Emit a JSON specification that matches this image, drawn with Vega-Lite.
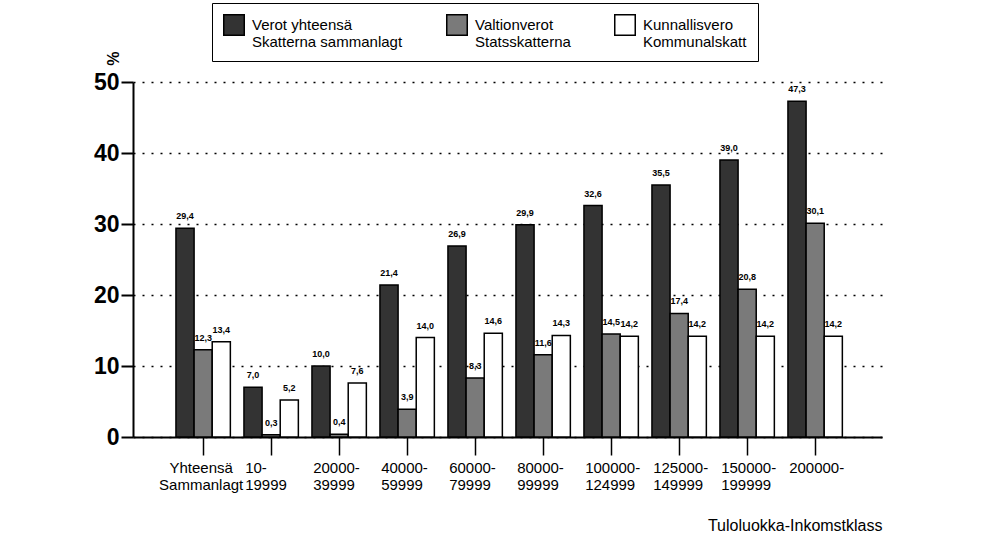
{
  "$schema": "https://vega.github.io/schema/vega-lite/v6.json",
  "width": 749,
  "height": 355,
  "autosize": "none",
  "padding": {"left": 133, "top": 82, "right": 114, "bottom": 118},
  "background": "white",
  "config": {
    "locale": {"number": {"decimal": ",", "thousands": " ", "grouping": [3], "currency": ["", ""]}},
    "font": "Liberation Sans, Arial, sans-serif",
    "view": {"stroke": null}
  },
  "data": {
    "values": [
      {"luokka": "Yhteensä Sammanlagt", "sarja": "Verot yhteensä", "arvo": 29.4},
      {"luokka": "Yhteensä Sammanlagt", "sarja": "Valtionverot", "arvo": 12.3},
      {"luokka": "Yhteensä Sammanlagt", "sarja": "Kunnallisvero", "arvo": 13.4},
      {"luokka": "10-19999", "sarja": "Verot yhteensä", "arvo": 7.0},
      {"luokka": "10-19999", "sarja": "Valtionverot", "arvo": 0.3},
      {"luokka": "10-19999", "sarja": "Kunnallisvero", "arvo": 5.2},
      {"luokka": "20000-39999", "sarja": "Verot yhteensä", "arvo": 10.0},
      {"luokka": "20000-39999", "sarja": "Valtionverot", "arvo": 0.4},
      {"luokka": "20000-39999", "sarja": "Kunnallisvero", "arvo": 7.6},
      {"luokka": "40000-59999", "sarja": "Verot yhteensä", "arvo": 21.4},
      {"luokka": "40000-59999", "sarja": "Valtionverot", "arvo": 3.9},
      {"luokka": "40000-59999", "sarja": "Kunnallisvero", "arvo": 14.0},
      {"luokka": "60000-79999", "sarja": "Verot yhteensä", "arvo": 26.9},
      {"luokka": "60000-79999", "sarja": "Valtionverot", "arvo": 8.3},
      {"luokka": "60000-79999", "sarja": "Kunnallisvero", "arvo": 14.6},
      {"luokka": "80000-99999", "sarja": "Verot yhteensä", "arvo": 29.9},
      {"luokka": "80000-99999", "sarja": "Valtionverot", "arvo": 11.6},
      {"luokka": "80000-99999", "sarja": "Kunnallisvero", "arvo": 14.3},
      {"luokka": "100000-124999", "sarja": "Verot yhteensä", "arvo": 32.6},
      {"luokka": "100000-124999", "sarja": "Valtionverot", "arvo": 14.5},
      {"luokka": "100000-124999", "sarja": "Kunnallisvero", "arvo": 14.2},
      {"luokka": "125000-149999", "sarja": "Verot yhteensä", "arvo": 35.5},
      {"luokka": "125000-149999", "sarja": "Valtionverot", "arvo": 17.4},
      {"luokka": "125000-149999", "sarja": "Kunnallisvero", "arvo": 14.2},
      {"luokka": "150000-199999", "sarja": "Verot yhteensä", "arvo": 39.0},
      {"luokka": "150000-199999", "sarja": "Valtionverot", "arvo": 20.8},
      {"luokka": "150000-199999", "sarja": "Kunnallisvero", "arvo": 14.2},
      {"luokka": "200000-", "sarja": "Verot yhteensä", "arvo": 47.3},
      {"luokka": "200000-", "sarja": "Valtionverot", "arvo": 30.1},
      {"luokka": "200000-", "sarja": "Kunnallisvero", "arvo": 14.2}
    ]
  },
  "encoding": {
    "x": {
      "field": "luokka",
      "type": "nominal",
      "sort": null,
      "scale": {"paddingInner": 0.2, "paddingOuter": 0.6074, "align": 0.52},
      "axis": {
        "title": "Tuloluokka-Inkomstklass",
        "titleAnchor": "end",
        "titleAlign": "right",
        "titleX": 749,
        "titleY": 96,
        "titleBaseline": "bottom",
        "titleFontSize": 16,
        "titleFontWeight": "normal",
        "titleColor": "black",
        "labelAngle": 0,
        "labelFontSize": 15,
        "labelColor": "black",
        "labelBaseline": "top",
        "labelLineHeight": 17,
        "labelPadding": 5,
        "labelAlign": {"condition": {"test": "datum.value == 'Yhteensä Sammanlagt'", "value": "center"}, "value": "left"},
        "labelOffset": {"condition": {"test": "datum.value == 'Yhteensä Sammanlagt'", "value": -2}, "value": -26},
        "labelExpr": "datum.label == 'Yhteensä Sammanlagt' ? ['Yhteensä', 'Sammanlagt'] : [split(datum.label, '-')[0] + '-', split(datum.label, '-')[1]]",
        "tickSize": 18,
        "tickWidth": 1.5,
        "tickColor": "black",
        "domainColor": "black",
        "domainWidth": 2
      }
    },
    "xOffset": {
      "field": "sarja",
      "type": "nominal",
      "sort": ["Verot yhteensä", "Valtionverot", "Kunnallisvero"],
      "scale": {"paddingInner": 0, "paddingOuter": 0}
    },
    "y": {
      "field": "arvo",
      "type": "quantitative",
      "scale": {"domain": [0, 50], "nice": false},
      "axis": {
        "values": [0, 10, 20, 30, 40, 50],
        "grid": true,
        "gridColor": "black",
        "gridDash": [2, 7],
        "gridWidth": 1.5,
        "domainColor": "black",
        "domainWidth": 2,
        "tickSize": 12,
        "tickWidth": 2,
        "tickColor": "black",
        "labelFontSize": 23,
        "labelFontWeight": "bold",
        "labelColor": "black",
        "labelPadding": 2,
        "title": "%",
        "titleAngle": 90,
        "titleX": -30,
        "titleY": -24,
        "titleFontSize": 16,
        "titleFontWeight": "bold",
        "titleColor": "black"
      }
    }
  },
  "layer": [
    {
      "mark": {"type": "bar", "stroke": "black", "strokeWidth": 1.5},
      "encoding": {
        "fill": {
          "field": "sarja",
          "type": "nominal",
          "scale": {"domain": ["Verot yhteensä", "Valtionverot", "Kunnallisvero"], "range": ["#333333", "#7a7a7a", "#ffffff"]},
          "legend": {
            "title": null,
            "orient": "none",
            "legendX": 79,
            "legendY": -79,
            "direction": "horizontal",
            "columns": 3,
            "symbolType": "square",
            "symbolSize": 420,
            "symbolStrokeColor": "black",
            "symbolStrokeWidth": 1.5,
            "labelFontSize": 15,
            "labelColor": "black",
            "labelLimit": 220,
            "labelOffset": 7,
            "columnPadding": 40,
            "padding": 11,
            "strokeColor": "black",
            "labelExpr": "datum.label == 'Verot yhteensä' ? ['Verot yhteensä', 'Skatterna sammanlagt'] : datum.label == 'Valtionverot' ? ['Valtionverot', 'Statsskatterna'] : ['Kunnallisvero', 'Kommunalskatt']"
          }
        }
      }
    },
    {
      "mark": {"type": "text", "dy": -7, "baseline": "bottom", "fontSize": 9, "fontWeight": "bold", "color": "black"},
      "encoding": {
        "text": {"field": "arvo", "type": "quantitative", "format": ".1f"}
      }
    }
  ]
}
